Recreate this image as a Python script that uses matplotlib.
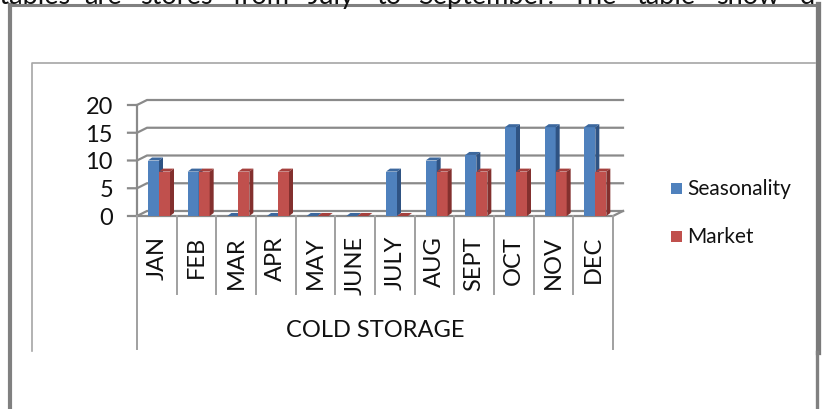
import numpy as np
import matplotlib
matplotlib.use("Agg")
import matplotlib.pyplot as plt
from matplotlib.patches import Polygon, Rectangle
from matplotlib.lines import Line2D

# cold storage data by month
months = ["JAN", "FEB", "MAR", "APR", "MAY", "JUNE", "JULY", "AUG", "SEPT", "OCT", "NOV", "DEC"]
seasonality = [10, 8, 0, 0, 0, 0, 8, 10, 11, 16, 16, 16]
market = [8, 8, 8, 8, 0, 0, 0, 8, 8, 8, 8, 8]
series_names = ["Seasonality", "Market"]
y_ticks = [0, 5, 10, 15, 20]
group_label = "COLD STORAGE"

# fragment of the paragraph running above the chart box
body_words = ["getables", "are", "stores", "from", "July", "to", "September.", "The", "table", "show", "d"]
body_x = [70, 84, 140, 232, 308, 376, 418, 572, 636, 716, 800]

plt.rcParams["font.family"] = ["Lato", "DejaVu Sans"]

W, H = 822, 410
fig = plt.figure(figsize=(W / 100, H / 100), dpi=100)
fig.patch.set_facecolor("white")

def fx(px):
    return px / W

def fy(py):
    return 1 - py / H

# plot area: category axis 137..613 px, value axis 217..106 px
ax = fig.add_axes([fx(137), fy(217), (613 - 137) / W, (217 - 106) / H])
ax.set_xlim(0, 12)
ax.set_ylim(0, 20)
ax.axis("off")

ux = 12 / 476.0   # data units per pixel
uy = 20 / 111.0

GRID = "#8a8a8a"
wall_dx, wall_dy = 10 * ux, 5 * uy
bar_dx, bar_dy = 4 * ux, 3 * uy
bar_w = 11 * ux
bar_off = 11 * ux

# back wall gridlines + left wall slants
for t in y_ticks:
    ax.add_line(Line2D([-9 * ux, 0, wall_dx, 12 + wall_dx], [t, t, t + wall_dy, t + wall_dy],
                       color=GRID, lw=1.6, clip_on=False, zorder=1))
ax.add_line(Line2D([0, 0], [0, 20], color=GRID, lw=1.6, clip_on=False, zorder=1))
# floor front edge and right edge
ax.add_line(Line2D([0, 12, 12 + wall_dx], [0, 0, wall_dy], color=GRID, lw=1.6, clip_on=False, zorder=1))

colors = {"Seasonality": ("#4f81bd", "#3c689e", "#2f5383"),
          "Market": ("#c0504d", "#a5403d", "#83302e")}

def draw_bars(vals, offset, name):
    front, top, side = colors[name]
    xs = np.arange(len(vals)) + offset
    ax.bar(xs, vals, width=bar_w, align="edge", color=front, zorder=3, clip_on=False)
    for x, v in zip(xs, vals):
        ax.add_patch(Polygon([(x, v), (x + bar_w, v), (x + bar_w + bar_dx, v + bar_dy), (x + bar_dx, v + bar_dy)],
                             closed=True, facecolor=top, edgecolor="none", zorder=3, clip_on=False))
        ax.add_patch(Polygon([(x + bar_w, 0), (x + bar_w + bar_dx, bar_dy), (x + bar_w + bar_dx, v + bar_dy), (x + bar_w, v)],
                             closed=True, facecolor=side, edgecolor="none", zorder=3, clip_on=False))

draw_bars(seasonality, bar_off, "Seasonality")
draw_bars(market, bar_off + bar_w, "Market")

# value axis labels
for t in y_ticks:
    ax.text(-24 * ux, t - 1.5 * uy, str(t), ha="right", va="center", fontsize=17, color="#111111")

# category separators and month labels
for i in range(13):
    depth = 133 if i in (0, 12) else 78
    ax.add_line(Line2D([i, i], [0, -depth * uy], color="#a0a0a0", lw=1.4, clip_on=False, zorder=1))
for i, m in enumerate(months):
    ax.text(i + 0.5, -19 * uy, m, rotation=90, ha="center", va="top", fontsize=17, color="#111111")
ax.text(6, -114 * uy, group_label, ha="center", va="center", fontsize=17, color="#111111")

# legend
for k, name in enumerate(series_names):
    cy = 189 + 48 * k
    fig.add_artist(Rectangle((fx(671), fy(cy + 5.5)), 11 / W, 11 / H, transform=fig.transFigure,
                             facecolor=colors[name][0], edgecolor="none"))
    fig.text(fx(687), fy(cy), name, ha="left", va="center", fontsize=15, color="#111111")

# chart box and page frame
fig.add_artist(Line2D([fx(32), fx(32), fx(815)], [fy(352), fy(64), fy(64)], transform=fig.transFigure,
                      color="#a6a6a6", lw=1.2))
fig.add_artist(Line2D([fx(10), fx(10)], [fy(6), 0], transform=fig.transFigure, color="#808080", lw=3))
fig.add_artist(Line2D([fx(9), fx(818)], [fy(6), fy(6)], transform=fig.transFigure, color="#808080", lw=2.2))
fig.add_artist(Line2D([fx(817.5), fx(817.5)], [fy(5), fy(353)], transform=fig.transFigure, color="#7a7a7a", lw=3.8))
fig.add_artist(Line2D([fx(816.5), fx(816.5)], [fy(353), 0], transform=fig.transFigure, color="#808080", lw=2.4))

# paragraph text, first word runs off the left edge
for w, x in zip(body_words, body_x):
    fig.text(fx(x), fy(4), w, ha="right" if w == body_words[0] else "left", va="baseline",
             fontsize=19.5, color="#111111")

fig.savefig("out.png", dpi=100, facecolor="white")
